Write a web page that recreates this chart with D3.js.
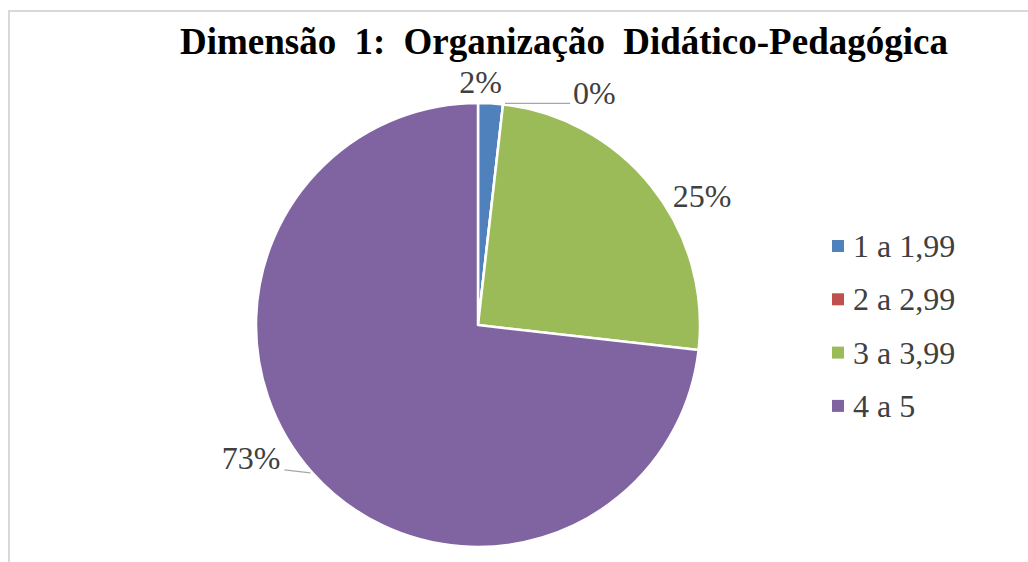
<!DOCTYPE html>
<html lang="pt">
<head>
<meta charset="UTF-8" />
<script src="https://d3js.org/d3.v7.min.js"></script>
<style>
  html, body { margin: 0; padding: 0; background: #fff; }
  svg { display: block; }
</style>
</head>
<body>
<svg id="chart" width="1028" height="562"></svg>
<script>
// data
var categories = ["1 a 1,99", "2 a 2,99", "3 a 3,99", "4 a 5"];
var values = [1.8, 0, 25, 73.2];
var labels = ["2%", "0%", "25%", "73%"];
var colors = ["#4F81BD", "#C0504D", "#9BBB59", "#8064A2"];

var svg = d3.select("#chart");
var width = 1028, height = 562;

// chart frame
svg.append("rect")
  .attr("x", 9).attr("y", 11)
  .attr("width", 1040).attr("height", 600)
  .attr("fill", "#fff")
  .attr("stroke", "#d9d9d9")
  .attr("stroke-width", 2);

// title (wide word gaps like the original)
svg.append("text")
  .attr("x", 180).attr("y", 54)
  .style("font-family", "'Liberation Serif', 'Times New Roman', serif")
  .style("font-weight", "bold")
  .style("font-size", "37px")
  .style("word-spacing", "9px")
  .attr("fill", "#000")
  .text("Dimensão 1: Organização Didático-Pedagógica");

// pie
var cx = 478, cy = 325, r = 222;
var pie = d3.pie().sort(null).value(function(d) { return d; });
var arcs = pie(values);
var arc = d3.arc().innerRadius(0).outerRadius(r);

var g = svg.append("g").attr("transform", "translate(" + cx + "," + cy + ")");
g.selectAll("path")
  .data(arcs)
  .join("path")
    .attr("d", arc)
    .attr("fill", function(d, i) { return colors[i]; })
    .attr("stroke", "#fff")
    .attr("stroke-width", 2.5)
    .attr("stroke-linejoin", "round");

// labels: edge point at mid angle, then nudged like excel does
function edge(d, k) {
  var a = (d.startAngle + d.endAngle) / 2;
  return [Math.sin(a) * r * k, -Math.cos(a) * r * k];
}
var labelFont = "'Liberation Serif', 'Times New Roman', serif";
// [dx, dy, anchor, leader]
var nudge = [
  [-10, -10, "middle", false],
  [70, 0, "start", true],
  [21, 20, "start", false],
  [-32, -4, "end", true]
];

arcs.forEach(function(d, i) {
  var p = edge(d, 1);
  var n = nudge[i];
  var tx = p[0] + n[0], ty = p[1] + n[1];
  if (n[3]) {
    var lx = i === 1 ? tx - 3 : tx + 4;
    g.append("path")
      .attr("d", "M" + (p[0] + (i === 1 ? 2 : -2)) + "," + (p[1] + (i === 1 ? -1 : 0)) +
        "L" + lx + "," + (i === 1 ? p[1] - 1 : ty + 1))
      .attr("fill", "none")
      .attr("stroke", "#a6a6a6")
      .attr("stroke-width", 1.2);
  }
  g.append("text")
    .attr("x", tx).attr("y", ty)
    .attr("text-anchor", n[2])
    .style("font-family", labelFont)
    .style("font-size", "32px")
    .attr("fill", "#404040")
    .text(labels[i]);
});

// legend
var legend = svg.append("g").attr("transform", "translate(832,257)");
var item = legend.selectAll("g")
  .data(categories)
  .join("g")
    .attr("transform", function(d, i) { return "translate(0," + (i * 53.3) + ")"; });
item.append("rect")
  .attr("x", 0).attr("y", -17)
  .attr("width", 12).attr("height", 12)
  .attr("fill", function(d, i) { return colors[i]; });
item.append("text")
  .attr("x", 21).attr("y", 0)
  .style("font-family", labelFont)
  .style("font-size", "32px")
  .attr("fill", "#404040")
  .text(function(d) { return d; });
</script>
</body>
</html>
